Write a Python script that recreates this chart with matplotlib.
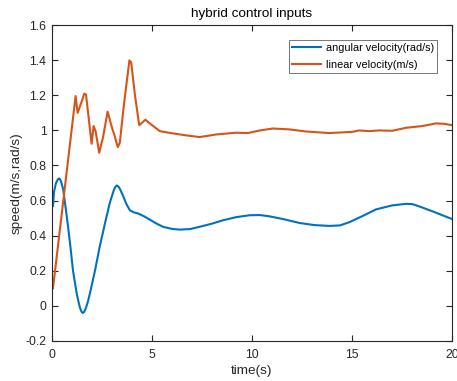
import matplotlib
matplotlib.use("Agg")
import matplotlib.pyplot as plt
import numpy as np

plt.rcParams['font.family'] = ['Liberation Sans', 'DejaVu Sans']

# angular velocity (rad/s)
t_ang = [0.05, 0.1, 0.2, 0.3, 0.37, 0.45, 0.56, 0.75, 0.9, 1.05, 1.23, 1.33, 1.4, 1.47,
         1.53, 1.6, 1.7, 1.8, 1.9, 2.15, 2.39, 2.65, 2.89, 3.08, 3.16, 3.24, 3.32, 3.4,
         3.56, 3.72, 3.89, 4.1, 4.31, 4.6, 4.89, 5.2, 5.55, 6.0, 6.38, 6.9, 7.38, 8.0,
         8.54, 9.2, 9.88, 10.4, 10.87, 11.6, 12.37, 13.1, 13.87, 14.4, 14.86, 15.5,
         16.19, 17.0, 17.69, 18.0, 18.35, 19.1, 19.85, 20.0]
w_ang = [0.57, 0.65, 0.70, 0.722, 0.726, 0.71, 0.663, 0.50, 0.358, 0.20, 0.072, 0.02,
         -0.012, -0.033, -0.042, -0.037, -0.012, 0.025, 0.072, 0.20, 0.339, 0.47, 0.587,
         0.655, 0.677, 0.686, 0.68, 0.665, 0.625, 0.58, 0.545, 0.532, 0.526, 0.51,
         0.491, 0.47, 0.45, 0.438, 0.434, 0.437, 0.45, 0.468, 0.487, 0.505, 0.516,
         0.517, 0.51, 0.493, 0.472, 0.46, 0.455, 0.458, 0.476, 0.51, 0.549, 0.572,
         0.581, 0.58, 0.567, 0.535, 0.501, 0.495]

# linear velocity (m/s)
t_lin = [0.05, 1.18, 1.28, 1.5, 1.61, 1.7, 1.98, 2.08, 2.18, 2.36, 2.55, 2.78, 3.01,
         3.11, 3.29, 3.39, 3.6, 3.87, 3.96, 4.15, 4.36, 4.67, 5.0, 5.39, 6.05, 6.7,
         7.38, 8.21, 9.21, 9.79, 10.4, 11.04, 11.87, 12.7, 13.87, 15.03, 15.36,
         15.86, 16.36, 17.02, 17.69, 18.52, 19.19, 19.6, 20.0]
v_lin = [0.1, 1.196, 1.10, 1.17, 1.21, 1.205, 0.924, 1.025, 0.996, 0.872, 0.96, 1.107,
         1.011, 0.977, 0.905, 0.93, 1.15, 1.40, 1.387, 1.20, 1.03, 1.061, 1.03, 0.996,
         0.983, 0.972, 0.962, 0.977, 0.987, 0.985, 1.0, 1.011, 1.006, 0.994, 0.985,
         0.992, 1.0, 0.996, 1.0, 0.998, 1.015, 1.025, 1.04, 1.038, 1.03]

fig = plt.figure(figsize=(4.57, 3.81), dpi=100)
ax = fig.add_axes([52/457, 1 - 340.7/381, 400/457, 315.4/381])

ax.plot(t_ang, w_ang, color='#0072BD', lw=1.5, label='angular velocity(rad/s)')
ax.plot(t_lin, v_lin, color='#D95319', lw=1.5, label='linear velocity(m/s)')

ax.set_xlim(0, 20)
ax.set_ylim(-0.2, 1.6)
ax.set_xticks([0, 5, 10, 15, 20])
ax.set_yticks(np.arange(-0.2, 1.61, 0.2))
ax.set_yticklabels(['-0.2', '0', '0.2', '0.4', '0.6', '0.8', '1', '1.2', '1.4', '1.6'])

for s in ax.spines.values():
    s.set_color('#262626')
    s.set_linewidth(0.8)
ax.tick_params(direction='in', top=True, right=True, length=4, width=0.8,
               colors='#262626', labelsize=8.7)
ax.tick_params(axis='x', pad=6)
ax.tick_params(axis='y', pad=4)

ax.set_title('hybrid control inputs', fontsize=9.7, color='#000000', pad=6)
ax.set_xlabel('time(s)', fontsize=9.7, color='#262626', labelpad=3)
ax.set_ylabel('speed(m/s,rad/s)', fontsize=9.7, color='#262626', labelpad=2)

leg = ax.legend(loc='upper right', fontsize=7.8, fancybox=False, framealpha=1,
                edgecolor='#404040', handlelength=2.6, borderaxespad=1.35,
                handletextpad=0.5, labelspacing=0.6, borderpad=0.3)
leg.get_frame().set_linewidth(0.5)

fig.savefig('out.png', dpi=100)
